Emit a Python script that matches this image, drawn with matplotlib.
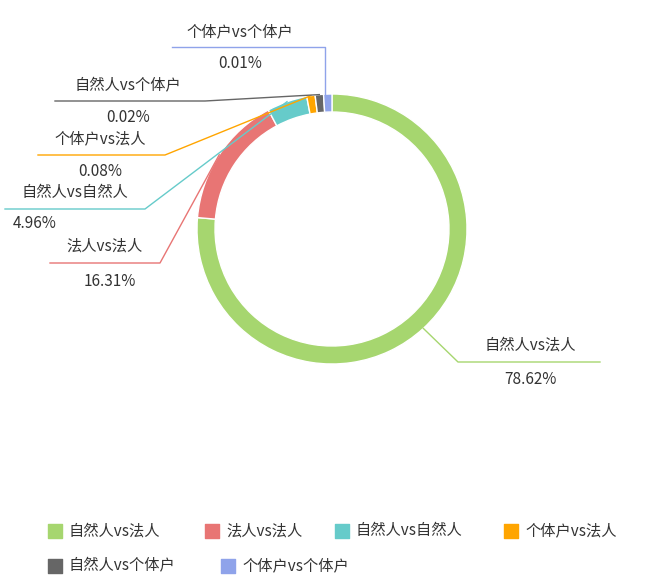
import matplotlib.pyplot as plt
import numpy as np

plt.rcParams['font.family'] = ['Noto Sans CJK SC', 'DejaVu Sans']

names = ['自然人vs法人', '法人vs法人', '自然人vs自然人', '个体户vs法人', '自然人vs个体户', '个体户vs个体户']
values = [78.62, 16.31, 4.96, 0.08, 0.02, 0.01]
colors = ['#a6d66f', '#e87574', '#66cbca', '#ffa500', '#666666', '#8fa3ea']
pct_labels = ['78.62%', '16.31%', '4.96%', '0.08%', '0.02%', '0.01%']

W, H = 664, 586
fig = plt.figure(figsize=(W / 100, H / 100), dpi=100)
ax = fig.add_axes([0, 0, 1, 1])
ax.set_xlim(0, W)
ax.set_ylim(0, H)
ax.set_aspect('equal')
ax.axis('off')

# min angle like echarts so tiny slices stay visible
min_deg = 3.6
vals = np.array(values)
deg = vals / vals.sum() * 360
small = deg < min_deg
deg[small] = min_deg
deg[~small] *= (360 - min_deg * small.sum()) / deg[~small].sum()

cx, cy = 332, H - 229
R, r = 135, 117
wedges, _ = ax.pie(deg, colors=colors, startangle=90, counterclock=False,
                   center=(cx, cy), radius=R, frame=True,
                   wedgeprops=dict(width=R - r, edgecolor='white', linewidth=1))
ax.set_xlim(0, W)
ax.set_ylim(0, H)
ax.axis('off')

# label layout (pixel coords from top): name pos, line y, line x-range
layout = [
    ((530, 345), (530, 379), 362, (458, 600), 'right'),
    ((105, 246), (110, 281), 263, (50, 160), 'left'),
    ((75, 193), (35, 223), 209, (5, 145), 'left'),
    ((100, 139), (100, 171), 155, (38, 165), 'left'),
    ((128, 86), (128, 117), 101, (55, 205), 'left'),
    ((240, 32), (240, 64), 47, (172, 325), 'up'),
]

start = 90.0
for i, w in enumerate(wedges):
    mid = np.deg2rad(start - deg[i] / 2)
    start -= deg[i]
    px, py = cx + R * np.cos(mid), cy + R * np.sin(mid)
    (nx, ny), (vx, vy), ly, (x0, x1), side = layout[i]
    ly = H - ly
    if side == 'right':
        ax.plot([px, x0, x1], [py, ly, ly], color=colors[i], lw=1)
    elif side == 'up':
        ax.plot([x0, x1, x1], [ly, ly, py], color=colors[i], lw=1)
    else:
        ax.plot([x0, x1, px], [ly, ly, py], color=colors[i], lw=1)
    ax.text(nx, H - ny, names[i], ha='center', va='center', fontsize=11, color='#333333')
    ax.text(vx, H - vy, pct_labels[i], ha='center', va='center', fontsize=11, color='#333333')

# legend
leg_pos = [(55, 531), (212, 531), (342, 531), (511, 531), (55, 566), (228, 566)]
for i, (lx, ly) in enumerate(leg_pos):
    ax.scatter([lx], [H - ly], marker='s', s=110, color=colors[i])
    ax.text(lx + 14, H - ly, names[i], ha='left', va='center', fontsize=11, color='#333333')

fig.savefig('out.png', dpi=100)
